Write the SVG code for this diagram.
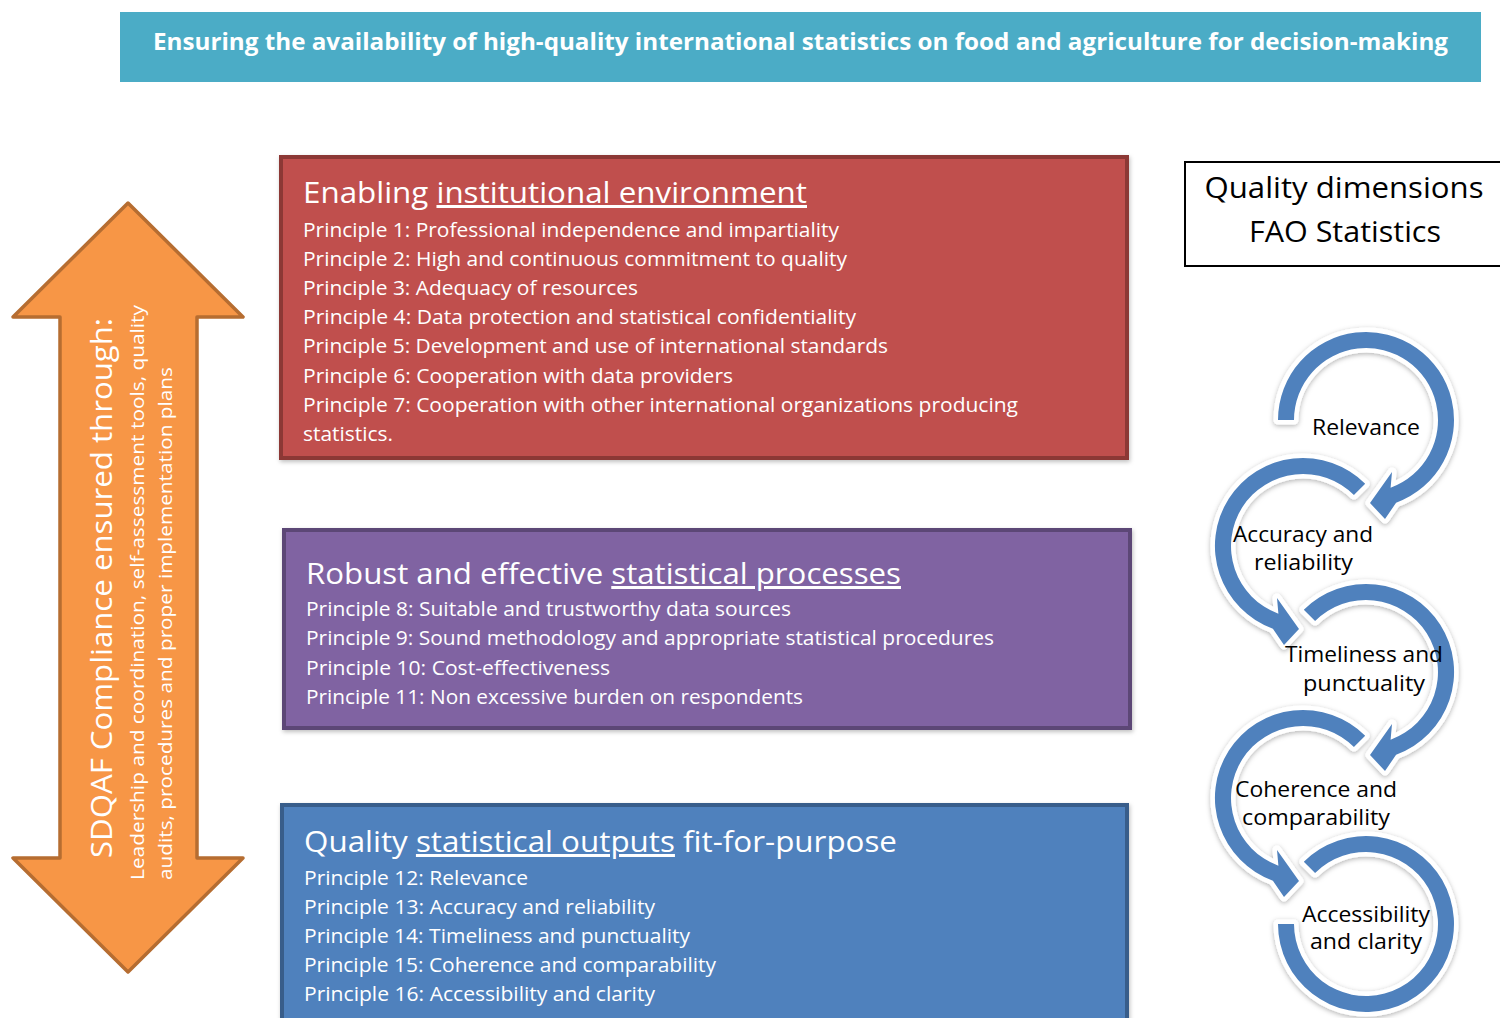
<svg xmlns="http://www.w3.org/2000/svg" xmlns:xlink="http://www.w3.org/1999/xlink" width="1500" height="1018" viewBox="0 0 1500 1018">
<style>
  text { font-family: "Open Sans", "Liberation Sans", sans-serif; }
  .hdr { fill: #fff; font-weight: bold; font-size: 24px; }
  .ttl { fill: #fff; font-size: 30px; }
  .pr { fill: #fff; font-size: 20.5px; }
  .u { text-decoration: underline; }
  .big { fill: #fff; font-size: 30px; }
  .sub { fill: #fff; font-size: 19px; }
  .qd { fill: #000; font-size: 29px; text-anchor: middle; }
  .lbl { fill: #000; font-size: 22px; }
  .ring { fill: #4F81BD; stroke: #fff; stroke-width: 9; paint-order: stroke; stroke-linejoin: round; }
</style>
<defs>
  <filter id="sh" x="-30%" y="-30%" width="160%" height="160%">
    <feDropShadow dx="0" dy="1.5" stdDeviation="2.5" flood-color="#000" flood-opacity="0.3"/>
  </filter>
  <filter id="bsh" x="-5%" y="-5%" width="110%" height="110%">
    <feDropShadow dx="1" dy="2" stdDeviation="2" flood-color="#000" flood-opacity="0.25"/>
  </filter>
  <path id="ringA" d="M -88 0 A 88 88 0 1 1 30.1 82.7 L 19 99 L 4 83 L 26 52 L 24.6 67.7 A 72 72 0 1 0 -72 0 Z"/>
  <path id="ringB" d="M -62.2 -62.2 A 88 88 0 1 1 30.1 82.7 L 19 99 L 4 83 L 26 52 L 24.6 67.7 A 72 72 0 1 0 -50.9 -50.9 Z"/>
  <path id="ringE" d="M -62.2 -62.2 A 88 88 0 1 1 -88 0 L -72 0 A 72 72 0 1 0 -50.9 -50.9 Z"/>
</defs>

<rect width="1500" height="1018" fill="#fff"/>

<g id="header">
  <rect x="120" y="12" width="1361" height="70" fill="#4BACC6"/>
  <text class="hdr" x="153" y="50" textLength="1295" lengthAdjust="spacingAndGlyphs">Ensuring the availability of high-quality international statistics on food and agriculture for decision-making</text>
</g>

<g id="sdqaf-arrow">
  <polygon points="128,203 243,317 197,317 197,858 243,858 128,972 13,858 60,858 60,317 13,317" fill="#F79646" stroke="#B66D31" stroke-width="3.5" stroke-linejoin="round"/>
  <text class="big" transform="translate(112,858) rotate(-90)" textLength="540" lengthAdjust="spacingAndGlyphs">SDQAF Compliance ensured through:</text>
  <text class="sub" transform="translate(144,880) rotate(-90)" textLength="575" lengthAdjust="spacingAndGlyphs">Leadership and coordination, self-assessment tools, quality</text>
  <text class="sub" transform="translate(172,880) rotate(-90)" textLength="513" lengthAdjust="spacingAndGlyphs">audits, procedures and proper implementation plans</text>
</g>

<g id="box-institutional">
  <rect x="281" y="157" width="846" height="301" fill="#C0504D" stroke="#8C3836" stroke-width="4" filter="url(#bsh)"/>
  <text class="ttl" x="303" y="203" textLength="504" lengthAdjust="spacingAndGlyphs">Enabling <tspan class="u">institutional environment</tspan></text>
  <text class="pr" x="303" y="237" textLength="536" lengthAdjust="spacingAndGlyphs">Principle 1: Professional independence and impartiality</text>
  <text class="pr" x="303" y="266" textLength="544" lengthAdjust="spacingAndGlyphs">Principle 2: High and continuous commitment to quality</text>
  <text class="pr" x="303" y="295" textLength="335" lengthAdjust="spacingAndGlyphs">Principle 3: Adequacy of resources</text>
  <text class="pr" x="303" y="324" textLength="553" lengthAdjust="spacingAndGlyphs">Principle 4: Data protection and statistical confidentiality</text>
  <text class="pr" x="303" y="353" textLength="585" lengthAdjust="spacingAndGlyphs">Principle 5: Development and use of international standards</text>
  <text class="pr" x="303" y="383" textLength="430" lengthAdjust="spacingAndGlyphs">Principle 6: Cooperation with data providers</text>
  <text class="pr" x="303" y="412" textLength="715" lengthAdjust="spacingAndGlyphs">Principle 7: Cooperation with other international organizations producing</text>
  <text class="pr" x="303" y="441" textLength="90" lengthAdjust="spacingAndGlyphs">statistics.</text>
</g>

<g id="box-processes">
  <rect x="284" y="530" width="846" height="198" fill="#8064A2" stroke="#5C4776" stroke-width="4" filter="url(#bsh)"/>
  <text class="ttl" x="306" y="584" textLength="595" lengthAdjust="spacingAndGlyphs">Robust and effective <tspan class="u">statistical processes</tspan></text>
  <text class="pr" x="306" y="616" textLength="485" lengthAdjust="spacingAndGlyphs">Principle 8: Suitable and trustworthy data sources</text>
  <text class="pr" x="306" y="645" textLength="688" lengthAdjust="spacingAndGlyphs">Principle 9: Sound methodology and appropriate statistical procedures</text>
  <text class="pr" x="306" y="675" textLength="304" lengthAdjust="spacingAndGlyphs">Principle 10: Cost-effectiveness</text>
  <text class="pr" x="306" y="704" textLength="497" lengthAdjust="spacingAndGlyphs">Principle 11: Non excessive burden on respondents</text>
</g>

<g id="box-outputs">
  <rect x="282" y="805" width="845" height="240" fill="#4F81BD" stroke="#385D8A" stroke-width="4" filter="url(#bsh)"/>
  <text class="ttl" x="304" y="852" textLength="593" lengthAdjust="spacingAndGlyphs">Quality <tspan class="u">statistical outputs</tspan> fit-for-purpose</text>
  <text class="pr" x="304" y="885" textLength="224" lengthAdjust="spacingAndGlyphs">Principle 12: Relevance</text>
  <text class="pr" x="304" y="914" textLength="351" lengthAdjust="spacingAndGlyphs">Principle 13: Accuracy and reliability</text>
  <text class="pr" x="304" y="943" textLength="386" lengthAdjust="spacingAndGlyphs">Principle 14: Timeliness and punctuality</text>
  <text class="pr" x="304" y="972" textLength="412" lengthAdjust="spacingAndGlyphs">Principle 15: Coherence and comparability</text>
  <text class="pr" x="304" y="1001" textLength="351" lengthAdjust="spacingAndGlyphs">Principle 16: Accessibility and clarity</text>
</g>

<g id="quality-dimensions-title">
  <rect x="1185" y="162" width="340" height="104" fill="#fff" stroke="#000" stroke-width="2"/>
  <text class="qd" x="1344" y="198" textLength="279" lengthAdjust="spacingAndGlyphs">Quality dimensions</text>
  <text class="qd" x="1345" y="242" textLength="192" lengthAdjust="spacingAndGlyphs">FAO Statistics</text>
</g>

<g id="connectors">
  <g filter="url(#sh)">
    <use id="ring-5" xlink:href="#ringE" class="ring" transform="translate(1366,924)"/>
  </g>
  <g filter="url(#sh)">
    <use id="ring-4" xlink:href="#ringB" class="ring" transform="translate(1303,798) scale(-1,1)"/>
  </g>
  <g filter="url(#sh)">
    <use id="ring-3" xlink:href="#ringB" class="ring" transform="translate(1366,672)"/>
  </g>
  <g filter="url(#sh)">
    <use id="ring-2" xlink:href="#ringB" class="ring" transform="translate(1303,546) scale(-1,1)"/>
  </g>
  <g filter="url(#sh)">
    <use id="ring-1" xlink:href="#ringA" class="ring" transform="translate(1366,420)"/>
  </g>
</g>

<g id="dim-relevance">
  <text class="lbl" x="1312" y="435" textLength="108" lengthAdjust="spacingAndGlyphs">Relevance</text>
</g>
<g id="dim-accuracy">
  <text class="lbl" x="1233" y="542" textLength="140" lengthAdjust="spacingAndGlyphs">Accuracy and</text>
  <text class="lbl" x="1254" y="570" textLength="99" lengthAdjust="spacingAndGlyphs">reliability</text>
</g>
<g id="dim-timeliness">
  <text class="lbl" x="1285" y="662" textLength="158" lengthAdjust="spacingAndGlyphs">Timeliness and</text>
  <text class="lbl" x="1303" y="691" textLength="122" lengthAdjust="spacingAndGlyphs">punctuality</text>
</g>
<g id="dim-coherence">
  <text class="lbl" x="1235" y="797" textLength="162" lengthAdjust="spacingAndGlyphs">Coherence and</text>
  <text class="lbl" x="1242" y="825" textLength="148" lengthAdjust="spacingAndGlyphs">comparability</text>
</g>
<g id="dim-accessibility">
  <text class="lbl" x="1302" y="922" textLength="128" lengthAdjust="spacingAndGlyphs">Accessibility</text>
  <text class="lbl" x="1310" y="949" textLength="112" lengthAdjust="spacingAndGlyphs">and clarity</text>
</g>
</svg>
